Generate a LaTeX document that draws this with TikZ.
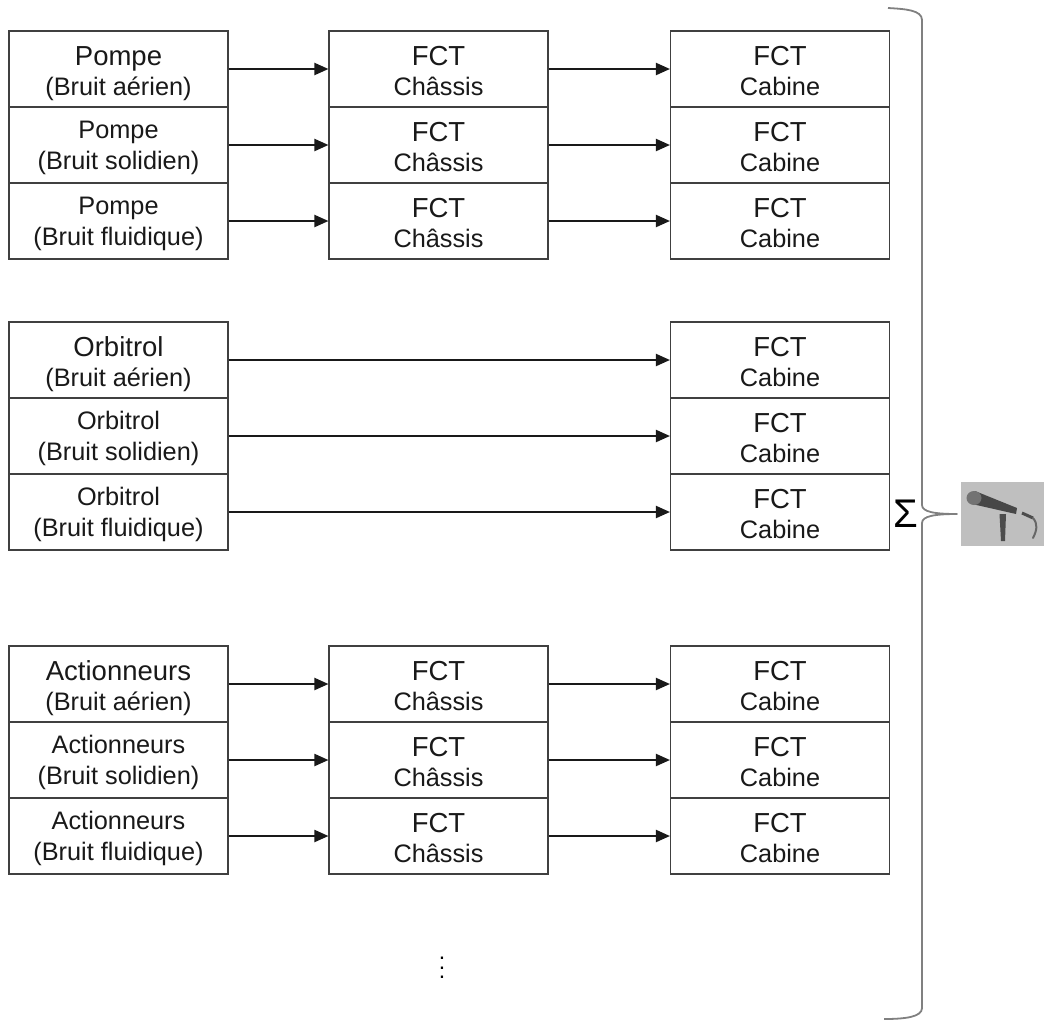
\documentclass[tikz,border=0pt]{standalone}
\usepackage{fontspec}
\setmainfont{Liberation Sans}
\usetikzlibrary{positioning, arrows.meta}

\newcommand{\topfont}{\fontsize{27.5}{30}\selectfont\rule{0pt}{31pt}}
\newcommand{\midfont}{\fontsize{25.3}{29}\selectfont\rule{0pt}{26pt}}
\newcommand{\subfont}{\fontsize{25.3}{29.5}\selectfont\rule[-8pt]{0pt}{29.5pt}}
\newcommand{\gap}{\rule[-8pt]{0pt}{8pt}\\}

\tikzset{
  blockbox/.style={rectangle, draw=black!75, line width=1.1pt, fill=white, minimum width=219pt, minimum height=76pt, inner sep=0pt, align=center, text=black!90},
  flow/.style={-{Triangle[length=14pt,width=12pt]}, line width=2pt, black!90},
  bracket/.style={draw=black!50, line width=1.8pt, line join=round}
}

\begin{document}
\begin{tikzpicture}[x=1pt, y=-1pt]
  \useasboundingbox (0, 0) rectangle (1044, 1021);

  % first group
  \node[blockbox] (pompeA) at (118.5, 69) {\topfont Pompe\gap\subfont (Bruit aérien)};
  \node[blockbox] (pompeB) at (118.5, 145) {\midfont Pompe\gap\subfont (Bruit solidien)};
  \node[blockbox] (pompeC) at (118.5, 221) {\midfont Pompe\gap\subfont (Bruit fluidique)};
  \node[blockbox] (chassisA) at (438.5, 69) {\topfont FCT\gap\subfont Châssis};
  \node[blockbox] (chassisB) at (438.5, 145) {\topfont FCT\gap\subfont Châssis};
  \node[blockbox] (chassisC) at (438.5, 221) {\topfont FCT\gap\subfont Châssis};
  \node[blockbox] (cabineA) at (780, 69) {\topfont FCT\gap\subfont Cabine};
  \node[blockbox] (cabineB) at (780, 145) {\topfont FCT\gap\subfont Cabine};
  \node[blockbox] (cabineC) at (780, 221) {\topfont FCT\gap\subfont Cabine};
  \path (pompeA) edge[flow] (chassisA);
  \path (pompeB) edge[flow] (chassisB);
  \path (pompeC) edge[flow] (chassisC);
  \path (chassisA) edge[flow] (cabineA);
  \path (chassisB) edge[flow] (cabineB);
  \path (chassisC) edge[flow] (cabineC);

  % second group
  \node[blockbox] (orbitrolA) at (118.5, 360) {\topfont Orbitrol\gap\subfont (Bruit aérien)};
  \node[blockbox] (orbitrolB) at (118.5, 436) {\midfont Orbitrol\gap\subfont (Bruit solidien)};
  \node[blockbox] (orbitrolC) at (118.5, 512) {\midfont Orbitrol\gap\subfont (Bruit fluidique)};
  \node[blockbox] (cabineD) at (780, 360) {\topfont FCT\gap\subfont Cabine};
  \node[blockbox] (cabineE) at (780, 436) {\topfont FCT\gap\subfont Cabine};
  \node[blockbox] (cabineF) at (780, 512) {\topfont FCT\gap\subfont Cabine};
  \path (orbitrolA) edge[flow] (cabineD);
  \path (orbitrolB) edge[flow] (cabineE);
  \path (orbitrolC) edge[flow] (cabineF);

  % third group
  \node[blockbox] (actionA) at (118.5, 684) {\topfont Actionneurs\gap\subfont (Bruit aérien)};
  \node[blockbox] (actionB) at (118.5, 760) {\midfont Actionneurs\gap\subfont (Bruit solidien)};
  \node[blockbox] (actionC) at (118.5, 836) {\midfont Actionneurs\gap\subfont (Bruit fluidique)};
  \node[blockbox] (chassisD) at (438.5, 684) {\topfont FCT\gap\subfont Châssis};
  \node[blockbox] (chassisE) at (438.5, 760) {\topfont FCT\gap\subfont Châssis};
  \node[blockbox] (chassisF) at (438.5, 836) {\topfont FCT\gap\subfont Châssis};
  \node[blockbox] (cabineG) at (780, 684) {\topfont FCT\gap\subfont Cabine};
  \node[blockbox] (cabineH) at (780, 760) {\topfont FCT\gap\subfont Cabine};
  \node[blockbox] (cabineI) at (780, 836) {\topfont FCT\gap\subfont Cabine};
  \path (actionA) edge[flow] (chassisD);
  \path (actionB) edge[flow] (chassisE);
  \path (actionC) edge[flow] (chassisF);
  \path (chassisD) edge[flow] (cabineG);
  \path (chassisE) edge[flow] (cabineH);
  \path (chassisF) edge[flow] (cabineI);

  \node (more) at (442, 961) {\scalebox{2.3}{$\vdots$}};

  % brace and sum
  \node (sum) at (905.5, 514) {\fontsize{40}{44}\selectfont Σ};
  \draw[bracket] (888, 8) .. controls (905, 9) and (922, 10) .. (922, 20) -- (922, 505)
    .. controls (922, 512) and (935, 514) .. (957, 514)
    .. controls (935, 514) and (922, 516) .. (922, 523) -- (922, 1008)
    .. controls (922, 1017) and (905, 1019) .. (884, 1019);

  % microphone
  \fill[black!25] (961, 482) rectangle (1044, 546);
  \fill[black!70] (999.5, 514) -- (1006, 514) -- (1005, 541) -- (1001, 541) -- cycle;
  \fill[black!72] (975, 491) -- (1017, 508) -- (1016, 514) -- (972, 504) -- cycle;
  \fill[black!55] (974, 498) ellipse (7.5pt and 7pt);
  \draw[black!70, line width=3pt] (1022, 513) -- (1033, 518);
  \draw[black!60, line width=2pt, line cap=round] (1033, 518) .. controls (1038, 524) and (1037, 530) .. (1033, 538);
\end{tikzpicture}
\end{document}
